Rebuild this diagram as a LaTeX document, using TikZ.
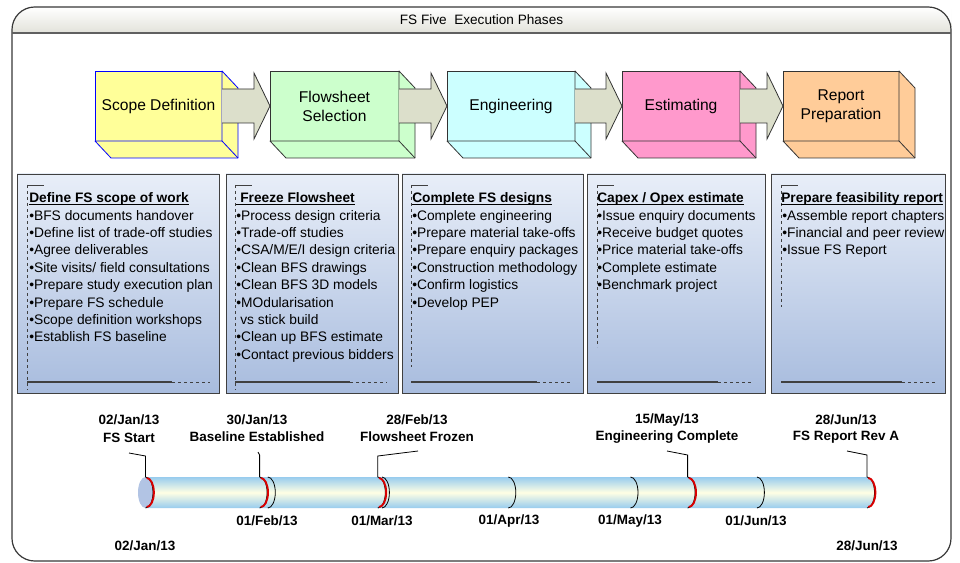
\documentclass[tikz,border=0pt]{standalone}
\usepackage{fontspec}
\setmainfont{Liberation Sans}
\usetikzlibrary{calc}
\definecolor{frameline}{HTML}{383838}
\definecolor{titlebot}{HTML}{E2E2DA}
\definecolor{scopefill}{HTML}{FFFF99}
\definecolor{flowfill}{HTML}{CCFFCC}
\definecolor{engfill}{HTML}{CCFFFF}
\definecolor{estfill}{HTML}{FF99CC}
\definecolor{repfill}{HTML}{FFCC99}
\definecolor{boxline}{HTML}{333333}
\definecolor{arrowfill}{HTML}{DCDFCB}
\definecolor{paneltop}{HTML}{E8EEF8}
\definecolor{panelbot}{HTML}{A8BCDE}
\definecolor{decoline}{HTML}{404040}
\definecolor{tubeedge}{HTML}{98CCEE}
\definecolor{tubemid}{HTML}{FFFFE4}
\definecolor{capfill}{HTML}{B2C4E4}
\newcommand\extrude[3]{%
  \filldraw[draw=#2,fill=#3,line width=0.6pt,line join=round]
    (#1.north east) -- ([shift={(16,17)}]#1.north east)
    -- ([shift={(16,17)}]#1.south east) -- ([shift={(16,17)}]#1.south west)
    -- (#1.south west) -- (#1.south east) -- cycle;
  \draw[draw=#2,line width=0.6pt] (#1.south east) -- ([shift={(16,17)}]#1.south east);
}
\newcommand\blockarrow[2]{%
  \filldraw[draw=boxline,fill=arrowfill,line width=0.6pt,line join=miter]
    let \p1=(#1.east), \p2=(#2.west) in
    (\x1,\y1+12.75pt) -- (\x2-12pt,\y1+12.75pt) -- (\x2-12pt,\y1+24.75pt)
    -- (\x2,\y1) -- (\x2-12pt,\y1-24.75pt) -- (\x2-12pt,\y1-12.75pt)
    -- (\x1,\y1-12.75pt);
}
\begin{document}
\begin{tikzpicture}[x=0.75pt,y=-0.75pt,
  phasebox/.style={draw=boxline,line width=0.6pt,inner sep=0pt,outer sep=0pt,
    minimum height=52.5pt,align=center,font=\fontsize{11.7}{14.3}\selectfont},
  panelbox/.style={draw=decoline,line width=0.7pt,inner sep=0pt,outer sep=0pt,
    top color=paneltop,bottom color=panelbot,minimum height=164.25pt},
  ptext/.style={anchor=base west,inner sep=0pt,font=\fontsize{10.35}{12}\selectfont},
  ptitle/.style={anchor=base west,inner sep=0pt,font=\bfseries\fontsize{10.3}{12}\selectfont},
  uline/.style={line width=0.6pt},
  decothin/.style={draw=decoline,line width=0.6pt},
  decodash/.style={draw=decoline,line width=0.6pt,dash pattern=on 2.25pt off 2.25pt},
  decothick/.style={draw=decoline,line width=1.1pt},
  tlabel/.style={inner sep=0pt,font=\bfseries\fontsize{10.1}{12}\selectfont},
  leader/.style={draw=black,line width=0.6pt},
  montharc/.style={draw=black,line width=0.6pt},
  redarc/.style={draw=red!85!black,line width=1.4pt},
]
\useasboundingbox (0,0) rectangle (960,563);
\fill[white] (0,0) rectangle (960,563);

% ---------- frame and title bar ----------
\fill[white,rounded corners=17pt] (12,7) rectangle (951,561);
\shade[top color=white,bottom color=titlebot]
  (12,33) -- (12,32) [rounded corners=17pt] -- (12,7) -- (951,7) -- (951,32)
  [sharp corners] -- (951,33) -- cycle;
\draw[frameline,line width=0.9pt,rounded corners=17pt] (12,7) rectangle (951,561);
\draw[frameline!80,line width=1.3pt] (12,33) -- (951,33);
\node[inner sep=0pt,font=\fontsize{10.2}{12}\selectfont] (title) at (481.5,19.5) {FS Five\ \ Execution Phases};

% ---------- phase boxes ----------
\node[phasebox,draw=blue,fill=scopefill,minimum width=95.25pt] (p1) at (158.5,106) {Scope Definition};
\node[phasebox,fill=flowfill,minimum width=96.75pt] (p2) at (334.5,106) {Flowsheet\\Selection};
\node[phasebox,fill=engfill,minimum width=96pt] (p3) at (511,106) {Engineering};
\node[phasebox,fill=estfill,minimum width=88.5pt] (p4) at (681,106) {Estimating};
\node[phasebox,fill=repfill,minimum width=87pt] (p5) at (841,106) {Report\\Preparation};
\extrude{p1}{blue}{scopefill}
\extrude{p2}{boxline}{flowfill}
\extrude{p3}{boxline}{engfill}
\extrude{p4}{boxline}{estfill}
\extrude{p5}{boxline}{repfill}
\blockarrow{p1}{p2}
\blockarrow{p2}{p3}
\blockarrow{p3}{p4}
\blockarrow{p4}{p5}

% ---------- panels ----------
\node[panelbox,minimum width=151.5pt] (q1) at (118,283.5) {};
\node[panelbox,minimum width=129pt] (q2) at (312,283.5) {};
\node[panelbox,minimum width=135.75pt] (q3) at (492.5,283.5) {};
\node[panelbox,minimum width=133.5pt] (q4) at (676,283.5) {};
\node[panelbox,minimum width=130.5pt] (q5) at (858,283.5) {};

% decorations
\foreach \xa/\ye/\xs/\xd in {27/390/172/210, 235/390/350/387, 411/367/537/572, 597/347/718/753, 781/307/902/937}{
  \draw[decothin] (\xa,185) -- (\xa+17,185);
  \draw[decodash] (\xa,185) -- (\xa,\ye);
  \draw[decothick] (\xa,382) -- (\xs,382);
  \draw[decodash] (\xs,382) -- (\xd,382);
}

% panel 1
\node[ptitle] (t1) at (29,202.7) {Define FS scope of work};
\draw[uline] ([yshift=-1.6pt]t1.base west) -- ([yshift=-1.6pt]t1.base east);
\foreach \t [count=\i] in {BFS documents handover, Define list of trade-off studies, Agree deliverables, Site visits/ field consultations, Prepare study execution plan, Prepare FS schedule, Scope definition workshops, Establish FS baseline}
  \node[ptext] at (29,202.7+17.4*\i) {•\t};

% panel 2
\node[ptitle] (t2) at (240,202.7) {Freeze Flowsheet};
\draw[uline] ([yshift=-1.6pt,xshift=-3pt]t2.base west) -- ([yshift=-1.6pt]t2.base east);
\foreach \t [count=\i] in {Process design criteria, Trade-off studies, CSA/M/E/I design criteria, Clean BFS drawings, Clean BFS 3D models, MOdularisation}
  \node[ptext] at (236,202.7+17.4*\i) {•\t};
\node[ptext] at (240,202.7+17.4*7) {vs stick build};
\node[ptext] at (236,202.7+17.4*8) {•Clean up BFS estimate};
\node[ptext] at (236,202.7+17.4*9) {•Contact previous bidders};

% panel 3
\node[ptitle] (t3) at (412,202.7) {Complete FS designs};
\draw[uline] ([yshift=-1.6pt]t3.base west) -- ([yshift=-1.6pt]t3.base east);
\foreach \t [count=\i] in {Complete engineering, Prepare material take-offs, Prepare enquiry packages, Construction methodology, Confirm logistics, Develop PEP}
  \node[ptext] at (412,202.7+17.4*\i) {•\t};

% panel 4
\node[ptitle] (t4) at (597,202.7) {Capex / Opex estimate};
\draw[uline] ([yshift=-1.6pt]t4.base west) -- ([yshift=-1.6pt]t4.base east);
\foreach \t [count=\i] in {Issue enquiry documents, Receive budget quotes, Price material take-offs, Complete estimate, Benchmark project}
  \node[ptext] at (597,202.7+17.4*\i) {•\t};

% panel 5
\node[ptitle] (t5) at (781,202.7) {Prepare feasibility report};
\draw[uline] ([yshift=-1.6pt]t5.base west) -- ([yshift=-1.6pt]t5.base east);
\foreach \t [count=\i] in {Assemble report chapters, Financial and peer review, Issue FS Report}
  \node[ptext] at (782,202.7+17.4*\i) {•\t};

% ---------- timeline ----------
\shade[top color=tubeedge,bottom color=tubeedge,middle color=tubemid]
  (145.5,477) -- (867,477) arc[start angle=-90,end angle=90,x radius=7.5,y radius=15.5]
  -- (145.5,508) -- cycle;
\fill[capfill] (145.5,492.5) ellipse [x radius=7.5,y radius=15.5];

% month boundaries
\foreach \mx in {267.8,381.9,508.3,630.5,756.9}
  \draw[montharc] (\mx,477) arc[start angle=-90,end angle=90,x radius=7.5,y radius=15.5];
% milestones
\foreach \mx in {145.5,259.6,377.8,687.6,867}{
  \draw[montharc] (\mx,477) arc[start angle=-90,end angle=90,x radius=7.5,y radius=15.5];
  \draw[redarc] (\mx+1.2,478) arc[start angle=-90,end angle=90,x radius=7.2,y radius=14.5];
}

\coordinate (m1) at (145.5,477);
\coordinate (m2) at (259.6,477);
\coordinate (m3) at (377.8,477);
\coordinate (m4) at (687.6,477);
\coordinate (m5) at (867,477);

\node[tlabel] (d1) at (129,420) {02/Jan/13};
\node[tlabel] (n1) at (129,438) {FS Start};
\node[tlabel] (d2) at (257,420) {30/Jan/13};
\node[tlabel] (n2) at (257,437) {Baseline Established};
\node[tlabel] (d3) at (417,420) {28/Feb/13};
\node[tlabel] (n3) at (417,437) {Flowsheet Frozen};
\node[tlabel] (d4) at (667,420) {15/May/13};
\node[tlabel] (n4) at (667,437) {Engineering Complete};
\node[tlabel] (d5) at (846,420) {28/Jun/13};
\node[tlabel] (n5) at (846,437) {FS Report Rev A};

\coordinate (k1) at (129,453);
\coordinate (k2) at (258,452);
\coordinate (k3) at (418,451);
\coordinate (k4) at (667,451);
\coordinate (k5) at (847,451);
\draw[leader] (k1) -- (145.5,456) -- (m1);
\draw[leader] (k2) -- (259.6,455) -- (m2);
\draw[leader] (k3) -- (377.8,456) -- (m3);
\draw[leader] (k4) -- (687.6,455) -- (m4);
\draw[leader] (k5) -- (867,455) -- (m5);

\node[tlabel] (mb) at (267,521) {01/Feb/13};
\node[tlabel] (mc) at (382,521) {01/Mar/13};
\node[tlabel] (md) at (509,521) {01/Apr/13};
\node[tlabel] (me) at (630,521) {01/May/13};
\node[tlabel] (mf) at (756,521) {01/Jun/13};
\node[tlabel] (e1) at (145,546) {02/Jan/13};
\node[tlabel] (e2) at (867,546) {28/Jun/13};
\end{tikzpicture}
\end{document}
